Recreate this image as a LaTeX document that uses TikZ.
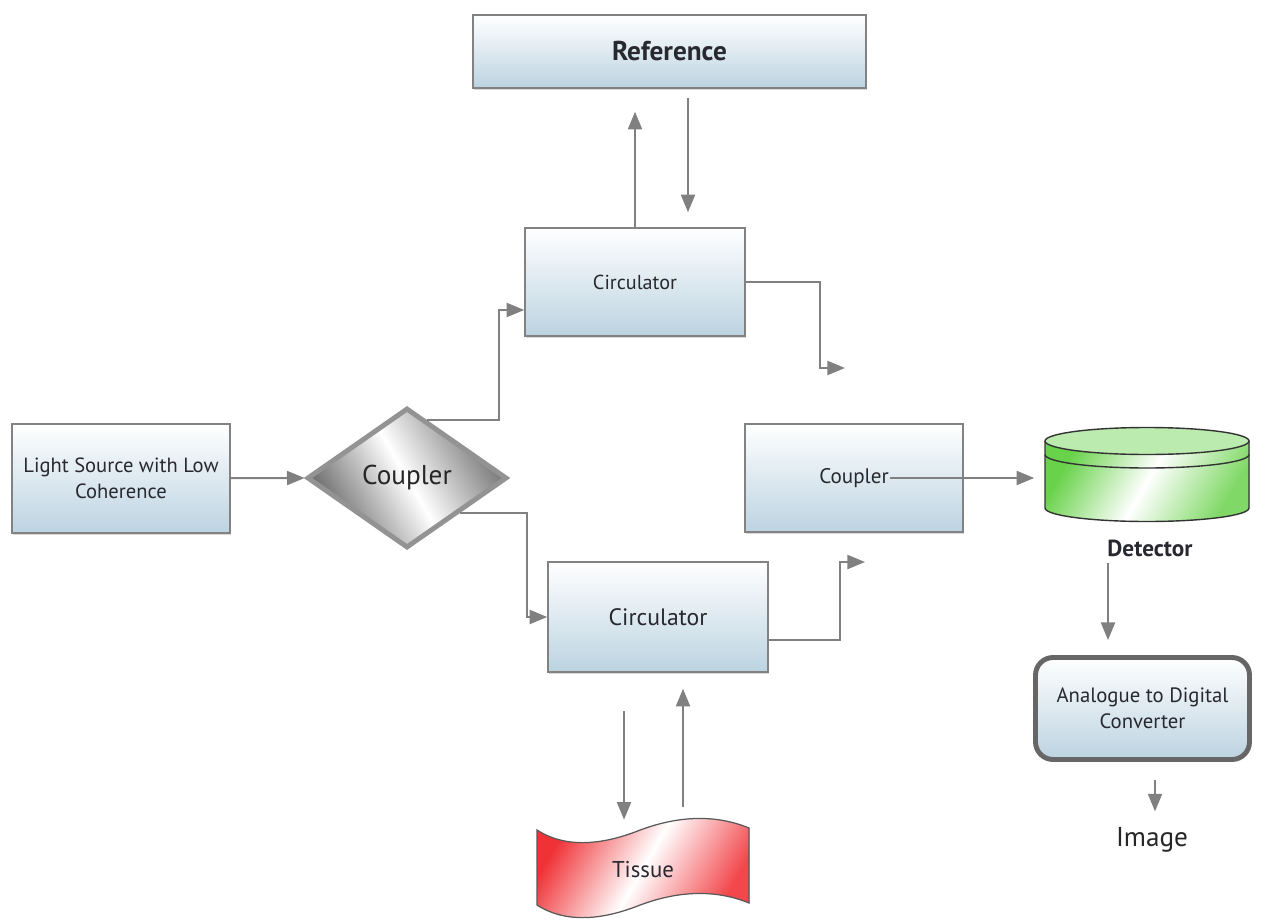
\documentclass[tikz,border=0pt]{standalone}
\usepackage{fontspec}
\setmainfont{PT Sans}
\usetikzlibrary{calc}
\usetikzlibrary{shapes.geometric, arrows, arrows.meta, shadows}
\definecolor{boxblue}{RGB}{188,211,225}
\definecolor{boxedge}{RGB}{130,130,130}
\definecolor{linegray}{RGB}{128,128,128}
\definecolor{textgray}{RGB}{40,40,48}
\definecolor{detgreen}{RGB}{105,210,75}
\definecolor{tissred}{RGB}{240,50,55}
\tikzstyle{block} = [rectangle, 
draw=boxedge, 
line width=0.9pt, 
top color=white, 
bottom color=boxblue, 
text=textgray, 
align=center, 
drop shadow={opacity=0.3, shadow xshift=0.8pt, shadow yshift=-1pt}]
\tikzstyle{converter} = [block, 
draw=gray!80!black, 
line width=2.8pt, 
rounded corners=0.35cm]
\tikzstyle{junction} = [diamond, 
aspect=1.4, 
inner sep=0pt, 
draw=gray!85, 
line width=2.8pt, 
left color=black!60, 
right color=black!55, 
middle color=white, 
shading angle=120, 
text=black!85]
\tikzstyle{caption} = [text=textgray, align=center]
\tikzstyle{arrow} = [line width=1.1pt, draw=linegray, ->, >={Triangle[length=10pt, width=8pt]}, color=linegray]

\begin{document}
\begin{tikzpicture}[x=0.02cm, y=-0.02cm]
    \useasboundingbox (0,0) rectangle (1267,922);

    \node (reference) [block, minimum width=7.86cm, minimum height=1.46cm, font=\fontsize{15.5}{17}\selectfont\bfseries] at (669.5,51.5) {Reference};
    \node (circtop) [block, minimum width=4.4cm, minimum height=2.16cm, font=\fontsize{11.5}{13}\selectfont] at (635,282) {Circulator};
    \node (source) [block, minimum width=4.36cm, minimum height=2.18cm, font=\fontsize{11.7}{15}\selectfont] at (121,478.5) {Light Source with Low\\Coherence};
    \node (coupler) [junction, minimum width=4cm, minimum height=2.8cm, font=\fontsize{15.5}{17}\selectfont] at (407,478) {Coupler};
    \node (combiner) [block, minimum width=4.36cm, minimum height=2.16cm, font=\fontsize{12}{14}\selectfont] at (854,478) {Coupler};
    \node (circbot) [block, minimum width=4.4cm, minimum height=2.2cm, font=\fontsize{13.5}{15}\selectfont] at (658,617) {Circulator};
    \node (adc) [converter, minimum width=4.28cm, minimum height=2.04cm, font=\fontsize{11.8}{15}\selectfont] at (1142.5,708.5) {Analogue to Digital\\Converter};

    \node (detector) [minimum width=4.1cm, minimum height=1.88cm] at (1147,478) {};
    \fill [left color=detgreen, right color=detgreen!85, middle color=white, shading angle=60] (1045,441) -- (1045,508) arc [start angle=180, end angle=0, x radius=102, y radius=13.5] -- (1249,441) -- cycle;
    \draw [black!80, line width=0.8pt] (1045,441) -- (1045,508) arc [start angle=180, end angle=0, x radius=102, y radius=13.5] -- (1249,441);
    \draw [black!80, line width=0.8pt, fill=detgreen!45] (1147,441) ellipse [x radius=102, y radius=13.5];
    \draw [black!80, line width=0.8pt] (1045,454.5) arc [start angle=180, end angle=0, x radius=102, y radius=13.5];
    \node (detlabel) [caption, font=\fontsize{13.2}{15}\selectfont\bfseries] at (1150,548) {Detector};
    \node (image) [caption, text=black!85, font=\fontsize{15.5}{17}\selectfont] at (1152,840) {Image};

    \fill [left color=tissred, right color=tissred!90, middle color=white, shading angle=60] (537,830) .. controls (565,848) and (600,845) .. (635,832) .. controls (670,818) and (710,812) .. (749,828) -- (749,903) .. controls (710,887) and (670,893) .. (635,907) .. controls (600,920) and (565,923) .. (537,905) -- cycle;
    \draw [gray!70!black, line width=0.7pt] (537,830) .. controls (565,848) and (600,845) .. (635,832) .. controls (670,818) and (710,812) .. (749,828) -- (749,903) .. controls (710,887) and (670,893) .. (635,907) .. controls (600,920) and (565,923) .. (537,905) -- cycle;
    \node (tissue) [caption, minimum width=4.24cm, minimum height=1.9cm, font=\fontsize{13}{15}\selectfont] at (643,870) {Tissue};

    \coordinate (topout) at (845,368);
    \coordinate (botout) at (865,562);

    \draw [arrow] (source) -- (coupler.west);
    \draw [arrow] ($(coupler.north)!0.2!(coupler.east)$) -| ([xshift=-0.5cm, yshift=-0.56cm]circtop.west) -- ([yshift=-0.56cm]circtop.west);
    \draw [arrow] ($(coupler.east)!0.48!(coupler.south)$) -| ([xshift=-0.4cm]circbot.west) -- (circbot.west);
    \draw [arrow, shorten >=0.46cm] (circtop.north) -- (circtop.north |- reference.south);
    \draw [arrow, shorten <=0.18cm, shorten >=0.3cm] ([xshift=0.37cm]reference.south) -- ([xshift=0.37cm]reference.south |- circtop.north);
    \draw [arrow] (circtop.east) -| ([xshift=-0.5cm]topout) -- (topout);
    \draw [arrow] ([yshift=-0.46cm]circbot.east) -| ([xshift=-0.5cm]botout) -- (botout);
    \draw [arrow, shorten >=0.2cm] ([xshift=0.72cm]combiner.center) -- (detector.west);
    \draw [arrow, shorten >=0.3cm] ([xshift=-0.84cm]detlabel.south) -- ([xshift=-0.84cm]detlabel.south |- adc.north);
    \draw [arrow, shorten <=0.36cm, shorten >=0.2cm] ([xshift=0.25cm]adc.south) -- ([xshift=0.25cm]adc.south |- image.north);
    \draw [arrow, shorten <=0.76cm, shorten >=0.05cm] ([xshift=-0.68cm]circbot.south) -- ([xshift=-0.68cm]circbot.south |- tissue.north);
    \draw [arrow, shorten <=0.3cm, shorten >=0.32cm] ([xshift=0.5cm]circbot.south |- tissue.north) -- ([xshift=0.5cm]circbot.south);
\end{tikzpicture}
\end{document}
